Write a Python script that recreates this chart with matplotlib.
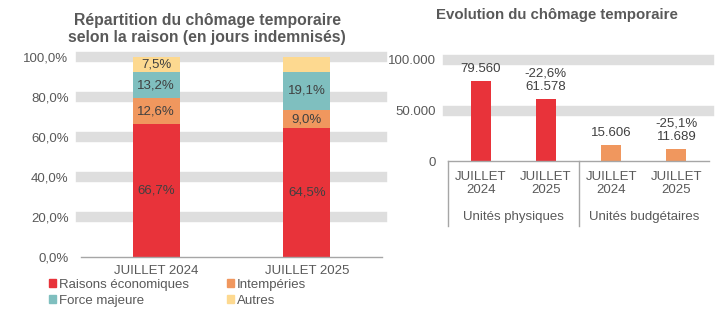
import matplotlib
matplotlib.use("Agg")
import matplotlib.pyplot as plt
import matplotlib.transforms as mtransforms
from matplotlib.patches import Patch
import numpy as np

plt.rcParams['font.family'] = ['Liberation Sans', 'DejaVu Sans']

# left chart: share of compensated days by reason
periods = ["JUILLET 2024", "JUILLET 2025"]
reasons = ["Raisons économiques", "Intempéries", "Force majeure", "Autres"]
eco = [66.7, 64.5]
intemp = [12.6, 9.0]
force = [13.2, 19.1]
autres = [7.5, 7.4]
autres_labelled = [True, False]

# right chart: volume in physical and budget units
units = ["Unités physiques", "Unités budgétaires"]
years = ["JUILLET\n2024", "JUILLET\n2025"]
physiques = [79560, 61578]
budgetaires = [15606, 11689]

RED = "#E8333A"
ORANGE = "#F0975E"
TEAL = "#7FBFBF"
YELLOW = "#FDD990"
BAND = "#DEDEDE"
AXIS = "#A6A6A6"
TICK = "#595959"
LABEL = "#404040"
FS = 9.5


def pct(v):
    return f"{v:.1f}%".replace(".", ",")


def thousands(v):
    return f"{v:,}".replace(",", ".")


fig = plt.figure(figsize=(7.28, 3.28), dpi=100)

# ---- left: stacked bars ----
ax1 = fig.add_axes([81 / 728, 71 / 328, 301 / 728, 200 / 328])
x = np.arange(len(periods))
series = [eco, intemp, force, autres]
colors = [RED, ORANGE, TEAL, YELLOW]
bottom = np.zeros(len(periods))
for name, vals, col in zip(reasons, series, colors):
    ax1.bar(x, vals, width=0.31, bottom=bottom, color=col, zorder=2)
    for i, v in enumerate(vals):
        if name == "Autres" and not autres_labelled[i]:
            continue
        ax1.text(x[i], bottom[i] + v / 2, pct(v), ha="center", va="center",
                 fontsize=FS, color=LABEL, zorder=3)
    bottom += np.array(vals)

ax1.set_xlim(-0.5, 1.5)
ax1.set_ylim(0, 100)
yt = [0, 20, 40, 60, 80, 100]
for v in yt[1:]:
    ax1.axhline(v, color=BAND, lw=7.5, zorder=0, clip_on=False)
ax1.set_yticks(yt)
ax1.set_yticklabels([pct(v) for v in yt])
ax1.set_xticks(x)
ax1.set_xticklabels(periods)
ax1.tick_params(axis="y", length=0, pad=9, labelsize=FS, labelcolor=TICK)
ax1.tick_params(axis="x", length=0, pad=6, labelsize=FS, labelcolor=TICK)
for s in ["top", "right", "left"]:
    ax1.spines[s].set_visible(False)
ax1.spines["bottom"].set_color(AXIS)
ax1.spines["bottom"].set_linewidth(1)

fig.text(207 / 728, 1 - 29 / 328,
         "Répartition du chômage temporaire\nselon la raison (en jours indemnisés)",
         ha="center", va="center", fontsize=11.3, fontweight="bold",
         color=TICK, linespacing=1.15)

handles = [Patch(color=c) for c in colors]
order = [0, 2, 1, 3]
fig.legend([handles[i] for i in order], [reasons[i] for i in order],
           ncol=2, loc="upper left", bbox_to_anchor=(49 / 728, 1 - 279 / 328),
           frameon=False, fontsize=FS, handlelength=0.55, handleheight=0.55,
           handletextpad=0.2, columnspacing=2.9, labelspacing=0.3,
           labelcolor=TICK, borderpad=0, borderaxespad=0)

# ---- right: evolution bars ----
ax2 = fig.add_axes([448 / 728, 167 / 328, 261 / 728, 101 / 328])
vals2 = physiques + budgetaires
cols2 = [RED, RED, ORANGE, ORANGE]
xr = np.arange(len(vals2))
ax2.bar(xr, vals2, width=0.31, color=cols2, zorder=2)
for i, v in enumerate(vals2):
    txt = thousands(v)
    if i % 2 == 1:
        change = (v - vals2[i - 1]) / vals2[i - 1] * 100
        txt = pct(change) + "\n" + txt
    ax2.text(xr[i], v + 6000, txt, ha="center", va="bottom", fontsize=FS,
             color=LABEL, linespacing=1.15, zorder=3)

ax2.set_xlim(-0.5, 3.5)
ax2.set_ylim(0, 100000)
for v in [50000, 100000]:
    ax2.axhline(v, color=BAND, lw=7.5, zorder=0, clip_on=False)
ax2.set_yticks([0, 50000, 100000])
ax2.set_yticklabels([thousands(v) for v in [0, 50000, 100000]])
ax2.set_xticks(xr)
ax2.set_xticklabels(years * 2, linespacing=1.15)
ax2.tick_params(axis="y", length=0, pad=9, labelsize=FS, labelcolor=TICK)
ax2.tick_params(axis="x", length=0, pad=7, labelsize=FS, labelcolor=TICK)
for s in ["top", "right", "left"]:
    ax2.spines[s].set_visible(False)
ax2.spines["bottom"].set_color(AXIS)
ax2.spines["bottom"].set_linewidth(1)

trans = mtransforms.blended_transform_factory(ax2.transData, ax2.transAxes)
for xs in [-0.5, 1.5]:
    ax2.plot([xs, xs], [0, -0.64], color=AXIS, lw=1, transform=trans,
             clip_on=False)
for j, name in enumerate(units):
    ax2.text(2 * j + 0.5, -0.555, name, ha="center", va="center",
             fontsize=FS, color=TICK, transform=trans)

fig.text(557 / 728, 1 - 15 / 328, "Evolution du chômage temporaire",
         ha="center", va="center", fontsize=10.8, fontweight="bold", color=TICK)

fig.savefig("out.png", dpi=100)
